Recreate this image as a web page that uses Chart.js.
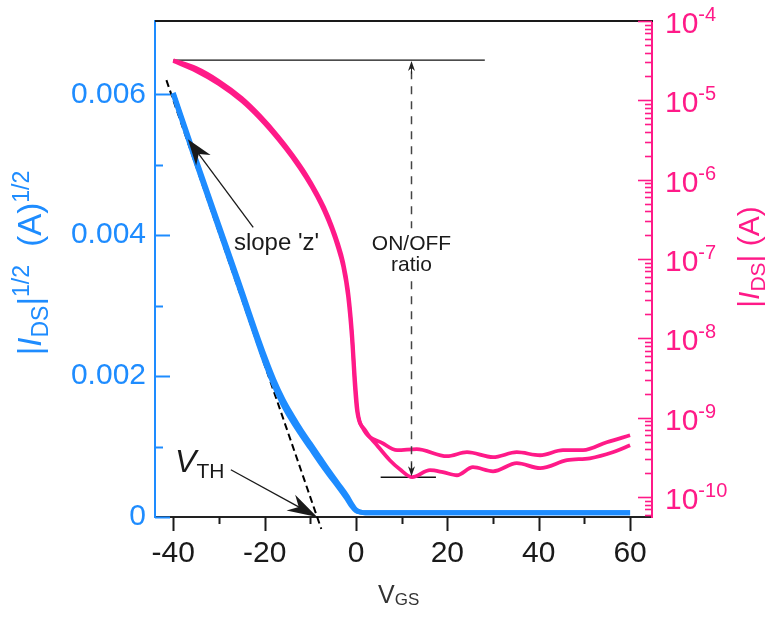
<!DOCTYPE html>
<html>
<head>
<meta charset="utf-8">
<title>Transfer characteristic</title>
<script src="https://cdn.jsdelivr.net/npm/chart.js@4.4.0/dist/chart.umd.min.js"></script>
<style>
  html, body { margin: 0; padding: 0; background: #fff; }
</style>
</head>
<body>
<canvas id="transferChart" width="766" height="617"></canvas>
<script>
// Gate sweep: sqrt|Ids| (left, linear) and |Ids| (right, log)
const vgsSqrt = [-40, -35, -30, -26, -24, -22, -20, -18, -16, -14, -12, -10, -8, -6, -4, -2, -1, 0, 1, 2, 5, 20, 40, 60];
const sqrtIdsFwd = [0.00600, 0.00503, 0.00409, 0.00334, 0.00296, 0.00258, 0.00221, 0.00188, 0.00160, 0.00137, 0.00117, 0.00098, 0.00079, 0.00061, 0.00044, 0.00026, 0.00016, 0.00009, 0.00007, 0.00006, 0.00006, 0.00006, 0.00006, 0.00006];
const sqrtIdsRev = [0.00602, 0.00507, 0.00414, 0.00340, 0.00302, 0.00264, 0.00228, 0.00195, 0.00167, 0.00144, 0.00123, 0.00104, 0.00085, 0.00066, 0.00048, 0.00030, 0.00019, 0.00010, 0.00007, 0.00006, 0.00006, 0.00006, 0.00006, 0.00006];

const vgsFwd = [-40, -35, -30, -25, -21, -17, -14, -11, -8.5, -7, -5.3, -4, -2.8, -1.75, -0.9, -0.2, 0.2, 2.0, 4.6, 7.4, 9.6, 12.3, 16.2, 19.0, 22.1, 25.6, 30.0, 35.2, 40.3, 46.2, 51.2, 56.2, 60];
const idsFwd = [3.13e-5, 2.34e-5, 1.6e-5, 9.8e-6, 5.88e-6, 3.21e-6, 1.92e-6, 1.07e-6, 6.09e-7, 4.06e-7, 2.36e-7, 1.42e-7, 7.97e-8, 3.4e-8, 1.0e-8, 2.22e-9, 1.24e-9, 6.95e-10, 4.5e-10, 2.91e-10, 2.24e-10, 1.78e-10, 2.18e-10, 2.06e-10, 1.88e-10, 2.38e-10, 2.11e-10, 2.67e-10, 2.31e-10, 2.91e-10, 3.08e-10, 3.67e-10, 4.5e-10];

const vgsRev = [60, 54.9, 49.7, 45.3, 40.3, 35.2, 30.0, 24.3, 19.9, 13.3, 9.0, 5.9, 1.5, 0.4, -0.2, -0.9, -1.75, -2.8, -4, -5.3, -7, -8.5, -11, -14, -17, -21, -25, -30, -35, -40];
const idsRev = [6.0e-10, 4.91e-10, 3.89e-10, 3.89e-10, 3.36e-10, 3.67e-10, 3.18e-10, 3.67e-10, 3.27e-10, 4.01e-10, 3.89e-10, 4.76e-10, 7.38e-10, 1.17e-9, 2.97e-9, 1.27e-8, 4.06e-8, 9.14e-8, 1.61e-7, 2.64e-7, 4.51e-7, 6.68e-7, 1.18e-6, 2.1e-6, 3.51e-6, 6.41e-6, 1.07e-5, 1.75e-5, 2.55e-5, 3.2e-5];

// linear extrapolation of the sqrt curve (threshold voltage)
const fitVgs = [-41.5, -7.6];
const fitSqrt = [0.0062, -0.00017];

// on / off current levels
const ionLevel = 3.22e-5;
const ionSpan = [-40, 28.2];
const ioffLevel = 1.78e-10;
const ioffSpan = [5.4, 17.5];
const ratioVgs = 12;

const xTicks = [-40, -20, 0, 20, 40, 60];
const xMinor = [-30, -10, 10, 30, 50];
const sqrtTicks = [0, 0.002, 0.004, 0.006];
const sqrtMinor = [0.001, 0.003, 0.005];
const decadeExps = [-10, -9, -8, -7, -6, -5, -4];

const BLUE = '#1e8cff';
const PINK = '#ff1a88';
const INK = '#1a1a1a';
const FONT = "'Liberation Sans', Arial, sans-serif";

Chart.defaults.font.family = FONT;

function pts(xs, ys) {
    return xs.map((v, i) => ({ x: v, y: ys[i] }));
}

function fontOf(size, italic) {
    return (italic ? 'italic ' : '') + size + 'px ' + FONT;
}

// text with sub/superscripts: parts = [text, size, italic, shift]
function richText(ctx, parts, x, y, align) {
    let w = 0;
    parts.forEach(p => { ctx.font = fontOf(p[1], p[2]); w += ctx.measureText(p[0]).width; });
    let cx = align === 'center' ? x - w / 2 : x;
    ctx.textAlign = 'left';
    ctx.textBaseline = 'alphabetic';
    parts.forEach(p => {
        ctx.font = fontOf(p[1], p[2]);
        ctx.fillText(p[0], cx, y + (p[3] || 0));
        cx += ctx.measureText(p[0]).width;
    });
}

function arrow(ctx, x0, y0, x1, y1, len, half) {
    const a = Math.atan2(y1 - y0, x1 - x0);
    ctx.beginPath();
    ctx.moveTo(x0, y0);
    ctx.lineTo(x1 - Math.cos(a) * len * 0.6, y1 - Math.sin(a) * len * 0.6);
    ctx.stroke();
    ctx.save();
    ctx.translate(x1, y1);
    ctx.rotate(a);
    ctx.beginPath();
    ctx.moveTo(0, 0);
    ctx.lineTo(-len, -half);
    ctx.lineTo(-len * 0.7, 0);
    ctx.lineTo(-len, half);
    ctx.closePath();
    ctx.fill();
    ctx.restore();
}

const decor = {
    id: 'decor',
    afterDraw(chart) {
        const { ctx, chartArea: area, scales } = chart;
        const { x, y, y2 } = scales;
        ctx.save();

        // top frame
        ctx.strokeStyle = INK;
        ctx.lineWidth = 2;
        ctx.beginPath();
        ctx.moveTo(area.left, area.top);
        ctx.lineTo(area.right + 1, area.top);
        ctx.stroke();

        // bottom ticks (outward)
        ctx.lineWidth = 2;
        ctx.strokeStyle = INK;
        xTicks.concat(xMinor).forEach(v => {
            const px = Math.round(x.getPixelForValue(v)) + 0.5;
            const len = xTicks.includes(v) ? 14 : 7;
            ctx.beginPath();
            ctx.moveTo(px, area.bottom);
            ctx.lineTo(px, area.bottom + len);
            ctx.stroke();
        });

        // left ticks (inward)
        ctx.strokeStyle = BLUE;
        sqrtTicks.concat(sqrtMinor).forEach(v => {
            const py = Math.round(y.getPixelForValue(v)) + 0.5;
            const len = sqrtTicks.includes(v) ? 15 : 8;
            ctx.beginPath();
            ctx.moveTo(area.left, py);
            ctx.lineTo(area.left + len, py);
            ctx.stroke();
        });

        // right log ticks (inward) and decade labels
        ctx.strokeStyle = PINK;
        ctx.lineWidth = 1.6;
        for (let e = -11; e <= -4; e++) {
            for (let m = 1; m <= 9; m++) {
                const v = m * Math.pow(10, e);
                if (v < y2.min * 0.999 || v > y2.max * 1.001) continue;
                const py = Math.round(y2.getPixelForValue(v)) + 0.5;
                const len = m === 1 ? 14 : 7;
                ctx.beginPath();
                ctx.moveTo(area.right - len, py);
                ctx.lineTo(area.right, py);
                ctx.stroke();
            }
        }
        ctx.fillStyle = PINK;
        decadeExps.forEach(e => {
            const py = y2.getPixelForValue(Math.pow(10, e));
            richText(ctx, [['10', 30, false, 0], [String(e), 20, false, -12]], area.right + 13, py + 12, 'left');
        });

        // axis titles
        ctx.fillStyle = BLUE;
        ctx.save();
        ctx.translate(41, 263);
        ctx.rotate(-Math.PI / 2);
        richText(ctx, [['|', 33], ['I', 33, true], ['DS', 23, false, 7], ['|', 33], ['1/2', 23, false, -12],
            ['  (A)', 33], ['1/2', 23, false, -12]], 0, 0, 'center');
        ctx.restore();

        ctx.fillStyle = PINK;
        ctx.save();
        ctx.translate(759, 257);
        ctx.rotate(-Math.PI / 2);
        richText(ctx, [['|', 30], ['I', 30, true], ['DS', 21, false, 6], ['|', 30], [' (A)', 30]], 0, 0, 'center');
        ctx.restore();

        ctx.fillStyle = '#333';
        richText(ctx, [['V', 25], ['GS', 17, false, 2]], 378, 603, 'left');

        // ON/OFF ratio marker
        const rx = Math.round(x.getPixelForValue(ratioVgs)) + 0.5;
        const yOn = y2.getPixelForValue(ionLevel);
        const yOff = y2.getPixelForValue(ioffLevel);
        ctx.strokeStyle = '#444';
        ctx.lineWidth = 1.5;
        ctx.setLineDash([8, 7]);
        ctx.beginPath();
        ctx.moveTo(rx, yOff - 8);
        ctx.lineTo(rx, yOn + 8);
        ctx.stroke();
        ctx.setLineDash([]);
        ctx.fillStyle = '#222';
        ctx.strokeStyle = '#222';
        ctx.lineWidth = 1;
        arrow(ctx, rx, yOn + 14, rx, yOn + 1, 10, 3.5);
        arrow(ctx, rx, yOff - 14, rx, yOff - 1, 10, 3.5);

        const tOn = y2.getPixelForValue(1.29e-7);
        ctx.fillStyle = '#fff';
        ctx.fillRect(rx - 44, tOn - 22, 88, 50);
        ctx.fillStyle = INK;
        ctx.font = fontOf(21);
        ctx.textAlign = 'center';
        ctx.textBaseline = 'alphabetic';
        ctx.fillText('ON/OFF', rx, tOn);
        ctx.fillText('ratio', rx, tOn + 21);

        // slope annotation
        ctx.fillStyle = INK;
        ctx.strokeStyle = INK;
        ctx.lineWidth = 1.3;
        arrow(ctx, x.getPixelForValue(-22.5), y.getPixelForValue(0.00411),
            x.getPixelForValue(-36.8), y.getPixelForValue(0.00536), 26, 9);
        ctx.font = fontOf(24);
        ctx.textAlign = 'center';
        ctx.fillText("slope 'z'", x.getPixelForValue(-17.4), y.getPixelForValue(0.00379));

        // threshold annotation
        arrow(ctx, x.getPixelForValue(-27.4), y.getPixelForValue(0.00067),
            x.getPixelForValue(-8.5), y.getPixelForValue(0), 30, 9);
        richText(ctx, [['V', 32, true], ['TH', 21, false, 6]], x.getPixelForValue(-39.6), y.getPixelForValue(0.00064), 'left');

        ctx.restore();
    }
};

const noGrid = { display: false, drawTicks: false };

new Chart(document.getElementById('transferChart'), {
    type: 'scatter',
    data: {
        datasets: [
            { data: pts(vgsSqrt, sqrtIdsFwd), yAxisID: 'y', borderColor: BLUE, borderWidth: 5 },
            { data: pts(vgsSqrt, sqrtIdsRev), yAxisID: 'y', borderColor: BLUE, borderWidth: 5 },
            { data: pts(vgsFwd, idsFwd), yAxisID: 'y2', borderColor: PINK, borderWidth: 3.8 },
            { data: pts(vgsRev, idsRev), yAxisID: 'y2', borderColor: PINK, borderWidth: 3.8 },
            { data: pts(fitVgs, fitSqrt), yAxisID: 'y', borderColor: '#000', borderWidth: 2, borderDash: [7, 4], clip: false },
            { data: pts(ionSpan, [ionLevel, ionLevel]), yAxisID: 'y2', borderColor: '#111', borderWidth: 1.3 },
            { data: pts(ioffSpan, [ioffLevel, ioffLevel]), yAxisID: 'y2', borderColor: '#111', borderWidth: 1.5 }
        ].map(d => Object.assign({ showLine: true, pointRadius: 0, fill: false, cubicInterpolationMode: 'monotone' }, d))
    },
    options: {
        responsive: false,
        animation: false,
        layout: { padding: { top: 21, left: 0, right: 0, bottom: 0 } },
        plugins: { legend: { display: false }, tooltip: { enabled: false } },
        scales: {
            x: {
                type: 'linear',
                min: -44,
                max: 64.8,
                grid: noGrid,
                border: { display: true, color: '#222', width: 2 },
                afterBuildTicks: s => { s.ticks = xTicks.map(v => ({ value: v })); },
                afterFit: s => { s.height = 100; s.paddingLeft = 0; s.paddingRight = 0; },
                ticks: { color: INK, font: { size: 30 }, padding: 19 }
            },
            y: {
                type: 'linear',
                position: 'left',
                min: 0,
                max: 0.00704,
                grid: noGrid,
                border: { display: true, color: BLUE, width: 2 },
                afterBuildTicks: s => { s.ticks = sqrtTicks.map(v => ({ value: v })); },
                afterFit: s => { s.width = 155; s.paddingTop = 0; s.paddingBottom = 0; },
                ticks: {
                    color: BLUE,
                    font: { size: 30 },
                    padding: 9,
                    callback: v => (v === 0 ? '0' : v.toFixed(3))
                }
            },
            y2: {
                type: 'logarithmic',
                position: 'right',
                min: 5.6e-11,
                max: 1e-4,
                grid: noGrid,
                border: { display: true, color: PINK, width: 2 },
                afterFit: s => { s.width = 114; s.paddingTop = 0; s.paddingBottom = 0; },
                ticks: { display: false }
            }
        }
    },
    plugins: [decor]
});
</script>
</body>
</html>
